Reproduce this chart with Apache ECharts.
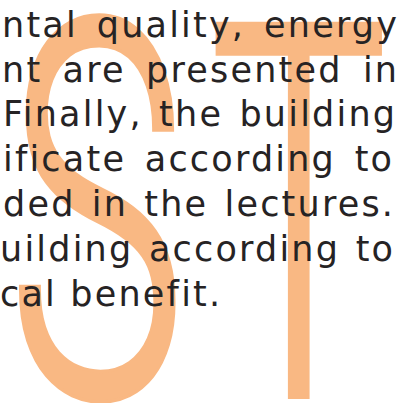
<!DOCTYPE html>
<html><head><meta charset="utf-8">
<script src="https://cdn.jsdelivr.net/npm/echarts@6/dist/echarts.min.js"></script>
<style>
html,body{margin:0;padding:0;background:#fff;overflow:hidden}
#chart{width:403px;height:403px}
#chart svg text{letter-spacing:2.2px}
</style></head><body><div id="chart"></div>
<script>
// content
const paragraphLines = ["ntal quality, energy", "nt are presented in", "Finally, the building", "ificate according to", "ded in the lectures.", "uilding according to", "cal benefit."];
const justifiedLines = [true, true, true, true, true, true, false];
const watermarkLetters = ["S", "T"];

// layout (kept separate from content)
const lineLeft = [2, 2, 3, 3, 3, 0, 0];
const lineRight = [397, 397, 395, 392, 393, 393, 0];
const firstBaseline = 37, lineStep = 44.8;
const FONT_SIZE = 35, LS = 2.2, FONT_FAMILY = '"DejaVu Sans"';
const TEXT_COLOR = '#262324', MARK_COLOR = '#F9B883';

const cv = document.createElement('canvas').getContext('2d');
cv.font = FONT_SIZE + 'px ' + FONT_FAMILY;
const measure = w => cv.measureText(w).width;

const elements = [];
// watermark letters (behind)
const markLayout = [
  {x: 8, baseline: 395, size: 525, scaleX: 0.57},
  {x: 210, baseline: 396, size: 521, scaleX: 0.57}
];
watermarkLetters.forEach((ch, i) => {
  const m = markLayout[i];
  elements.push({
    type: 'text', x: m.x, y: m.baseline - 0.3415 * m.size, scaleX: m.scaleX, z: 1,
    style: {text: ch, x: 0, y: 0, fill: MARK_COLOR, stroke: MARK_COLOR, lineWidth: 7, lineHeight: 360,
            font: '300 ' + m.size + 'px Roboto', align: 'left', verticalAlign: 'middle'}
  });
});
paragraphLines.forEach((line, i) => {
  const yMid = firstBaseline + i * lineStep - 0.346 * FONT_SIZE;
  const words = line.split(' ');
  let xs = [];
  if (justifiedLines[i] && words.length > 1) {
    const ws = words.map((w, k) => measure(w) + LS * (k === words.length - 1 ? w.length - 1 : w.length));
    const total = ws.reduce((a, b) => a + b, 0);
    const gap = (lineRight[i] - lineLeft[i] - total) / (words.length - 1);
    let x = lineLeft[i];
    words.forEach((w, k) => { xs.push(x); x += ws[k] + gap; });
  } else {
    const sp = measure(' ') + LS;
    let x = lineLeft[i];
    words.forEach((w) => { xs.push(x); x += measure(w) + LS * w.length + sp; });
  }
  words.forEach((w, k) => {
    elements.push({
      type: 'text', x: xs[k], y: yMid, z: 10,
      style: {text: w, fill: TEXT_COLOR, font: FONT_SIZE + 'px ' + FONT_FAMILY, align: 'left', verticalAlign: 'middle'}
    });
  });
});

const chart = echarts.init(document.getElementById('chart'), null, {renderer: 'svg'});
chart.setOption({backgroundColor: '#ffffff', animation: false, graphic: {elements}});
</script></body></html>
